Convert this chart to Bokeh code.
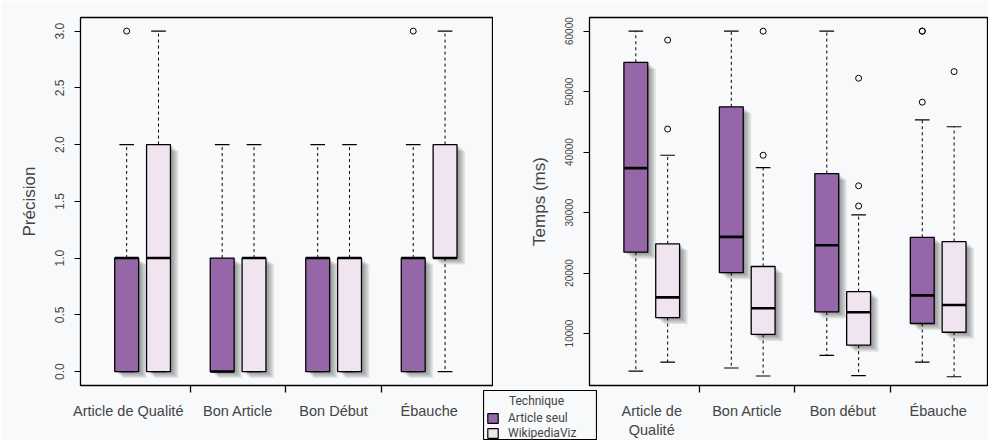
from bokeh.plotting import figure
from bokeh.models import (Range1d, FixedTicker, PrintfTickFormatter, Legend,
                          LegendItem, ColumnDataSource, Label)
from bokeh.layouts import row, column
from bokeh.embed import file_html
from bokeh.resources import INLINE

# ---------------- data ----------------
groups_left = ["Article de Qualité", "Bon Article", "Bon Début", "Ébauche"]
groups_right = ["Article de\nQualité", "Bon Article", "Bon début", "Ébauche"]
techniques = ["Article seul", "WikipediaViz"]
legend_title = "Technique"

# boxes ordered: group0-seul, group0-wiki, group1-seul, ...
prec_lower = [0, 0, 0, 0, 0, 0, 0, 0]
prec_q1 = [0, 0, 0, 0, 0, 0, 0, 1]
prec_med = [1, 1, 0, 1, 1, 1, 1, 1]
prec_q3 = [1, 2, 1, 1, 1, 1, 1, 2]
prec_upper = [2, 3, 2, 2, 2, 2, 2, 3]
prec_out_box = [0, 6]
prec_out_val = [3, 3]
prec_ticks = [0.0, 0.5, 1.0, 1.5, 2.0, 2.5, 3.0]

temps_lower = [3790, 5270, 4290, 2970, 6380, 3020, 5270, 2850]
temps_q1 = [23440, 12640, 20050, 9840, 13560, 8070, 11650, 10210]
temps_med = [37340, 15980, 25980, 14170, 24590, 13510, 16310, 14710]
temps_q3 = [54850, 24820, 47480, 21080, 36450, 16920, 25910, 25200]
temps_upper = [60000, 39480, 60000, 37440, 60000, 29600, 45340, 44190]
temps_out_box = [1, 1, 3, 3, 5, 5, 5, 6, 6, 6, 7]
temps_out_val = [58520, 43810, 60000, 39480, 52210, 34420, 31080, 60000, 60000, 48260, 53310]
temps_ticks = [10000, 20000, 30000, 40000, 50000, 60000]

PURPLE = "#9566a8"
LIGHT = "#f0e4f0"
BG = "#f7f9fb"
COLORS = [PURPLE, LIGHT]
FONT = "Liberation Sans"
LEGFONT = "Roboto"


def box_pos(i):
    return 1 + 3 * (i // 2) + (i % 2)


def make_panel(width, height, borders, xr, yr, lower, q1, med, q3, upper,
               out_box, out_val, yticks, yfmt, ylabel, ylab_size, labels,
               label_pos, tick_font):
    bl, br, bt, bb = borders
    p = figure(width=width, height=height, output_backend="svg",
               toolbar_location=None, x_range=Range1d(*xr), y_range=Range1d(*yr),
               min_border_left=bl, min_border_right=br, min_border_top=bt,
               min_border_bottom=bb, background_fill_color=BG,
               border_fill_color=BG, outline_line_color="black",
               outline_line_width=1.3)
    p.grid.visible = False
    frame_w = width - bl - br
    frame_h = height - bt - bb
    pxx = frame_w / (xr[1] - xr[0])
    pxy = frame_h / (yr[1] - yr[0])

    n = len(q1)
    xs = [box_pos(i) for i in range(n)]
    bw = 0.75
    cw = 0.23

    # drop shadows
    for k in range(1, 6):
        dx = k * 1.6 / pxx
        dy = k * 1.3 / pxy
        p.vbar(x=[x + dx for x in xs], bottom=[v - dy for v in q1],
               top=[v - dy for v in q3], width=bw, fill_color="black",
               fill_alpha=0.09, line_color=None)

    # whiskers
    p.segment(x0=xs, x1=xs, y0=q3, y1=upper, line_color="black",
              line_width=1, line_dash="3 3")
    p.segment(x0=xs, x1=xs, y0=q1, y1=lower, line_color="black",
              line_width=1, line_dash="3 3")
    p.segment(x0=[x - cw for x in xs], x1=[x + cw for x in xs], y0=upper,
              y1=upper, line_color="black", line_width=1.2)
    p.segment(x0=[x - cw for x in xs], x1=[x + cw for x in xs], y0=lower,
              y1=lower, line_color="black", line_width=1.2)

    # boxes per technique
    for t in range(2):
        idx = [i for i in range(n) if i % 2 == t]
        src = ColumnDataSource(dict(x=[xs[i] for i in idx],
                                    b=[q1[i] for i in idx],
                                    tp=[q3[i] for i in idx]))
        p.vbar(x="x", bottom="b", top="tp", width=bw, source=src,
               fill_color=COLORS[t], line_color="black", line_width=1.3)

    # medians
    p.segment(x0=[x - bw / 2 for x in xs], x1=[x + bw / 2 for x in xs],
              y0=med, y1=med, line_color="black", line_width=2.6)

    # outliers
    p.scatter(x=[xs[i] for i in out_box], y=out_val, size=6, marker="circle",
              fill_color=None, line_color="black", line_width=1)

    # axes
    ya = p.yaxis[0]
    ya.ticker = FixedTicker(ticks=yticks)
    ya.formatter = PrintfTickFormatter(format=yfmt)
    ya.major_label_orientation = "vertical"
    ya.axis_line_color = None
    ya.major_tick_out = 6
    ya.major_tick_in = 0
    ya.major_tick_line_width = 1.2
    ya.minor_tick_line_color = None
    ya.major_label_text_font = FONT
    ya.major_label_text_font_size = tick_font
    ya.major_label_standoff = 10
    ya.axis_label = ylabel
    ya.axis_label_text_font = FONT
    ya.axis_label_text_font_style = "normal"
    ya.axis_label_text_font_size = ylab_size
    ya.axis_label_standoff = 14

    xa = p.xaxis[0]
    xa.ticker = FixedTicker(ticks=label_pos, minor_ticks=[3, 6, 9])
    xa.major_label_overrides = {pos: lab for pos, lab in zip(label_pos, labels)}
    xa.axis_line_color = None
    xa.major_tick_line_color = None
    xa.major_tick_out = 0
    xa.major_tick_in = 0
    xa.minor_tick_out = 7
    xa.minor_tick_in = 0
    xa.minor_tick_line_color = "black"
    xa.minor_tick_line_width = 1.3
    xa.major_label_text_font = FONT
    xa.major_label_text_font_size = "14.5px"
    xa.major_label_standoff = 10
    return p


centers = [1.5 + 3 * g for g in range(4)]
left_pos = [centers[0] - 0.45] + centers[1:]

left = make_panel(493, 440, (80, 1, 17, 54), (-0.45, 12.49), (-0.123, 3.12),
                  prec_lower, prec_q1, prec_med, prec_q3, prec_upper,
                  prec_out_box, prec_out_val, prec_ticks, "%.1f",
                  "Précision", "17px", groups_left, left_pos, "12px")

right = make_panel(495, 440, (96, 1, 17, 54), (-0.456, 12.05),
                   (1400, 62256), temps_lower, temps_q1, temps_med,
                   temps_q3, temps_upper, temps_out_box, temps_out_val,
                   temps_ticks, "%d", "Temps (ms)", "17px",
                   groups_right, centers, "10px")

# ---------------- legend box (overlaid below both panels) ----------------
LW, LH = 114, 50
legfig = figure(width=LW, height=LH, output_backend="svg", toolbar_location=None,
                x_range=Range1d(100, 101), y_range=Range1d(0, 1),
                x_axis_type=None, y_axis_type=None, min_border=0,
                background_fill_color=BG, border_fill_color=BG,
                outline_line_color="black", outline_line_width=1.2)
legfig.grid.visible = False
# legend proxies: the same boxes, lying outside this small figure's view
proxies = []
for t in range(2):
    idx = [i for i in range(len(temps_q1)) if i % 2 == t]
    proxies.append(legfig.vbar(x=[box_pos(i) for i in idx],
                               bottom=[temps_q1[i] for i in idx],
                               top=[temps_q3[i] for i in idx], width=0.75,
                               fill_color=COLORS[t], line_color="black",
                               line_width=1.2))
leg = Legend(items=[LegendItem(label=lab, renderers=[r])
                    for lab, r in zip(techniques, proxies)],
             location=(3, 0), label_text_font=LEGFONT,
             label_text_font_size="12px", glyph_width=13, glyph_height=12,
             label_height=12, spacing=1, padding=3, margin=0,
             label_standoff=9, border_line_color=None,
             background_fill_alpha=0.0)
legfig.add_layout(leg, "center")
legfig.add_layout(Label(x=100 + 53 / LW, y=1 - 10.7 / LH, text=legend_title,
                        text_align="center", text_baseline="middle",
                        text_font=LEGFONT, text_font_size="12px"))
legfig.margin = (-LH, 0, 0, 483)

layout = column(row(left, right), legfig)
open("out.html", "w").write(file_html(layout, INLINE))
